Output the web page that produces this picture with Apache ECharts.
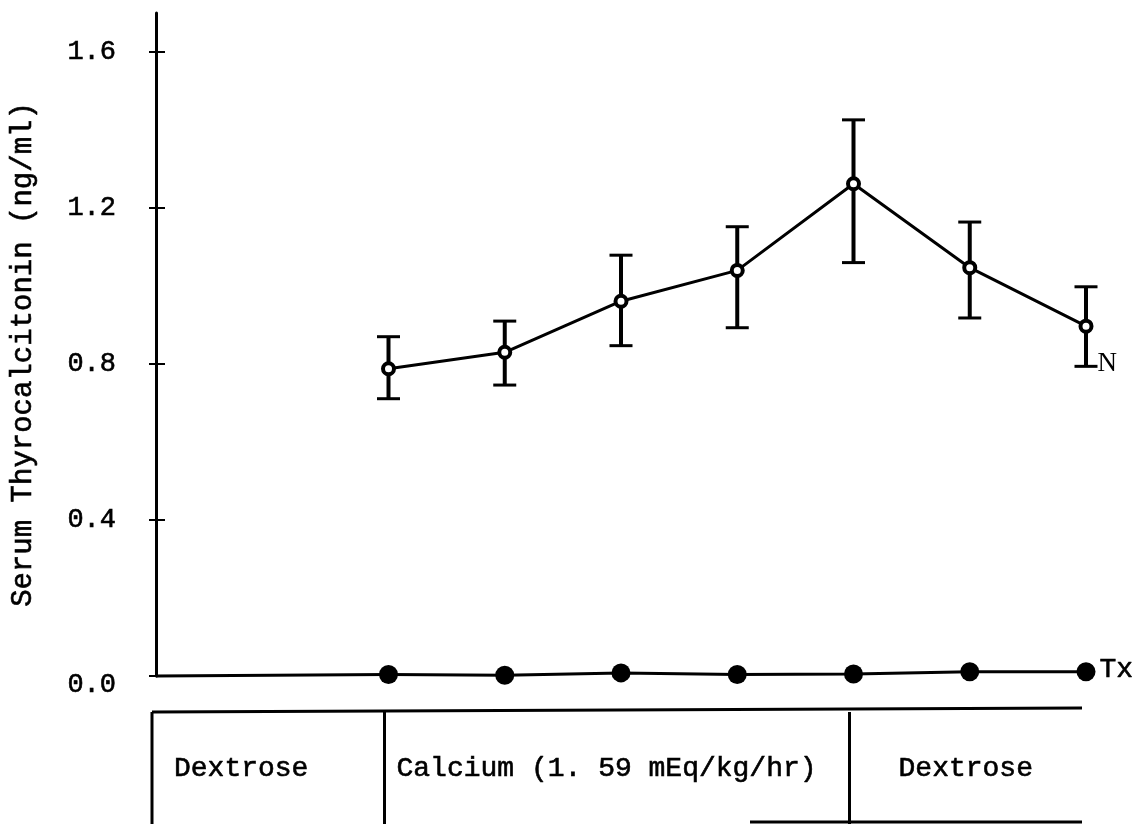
<!DOCTYPE html>
<html><head><meta charset="utf-8">
<script src="https://cdn.jsdelivr.net/npm/echarts@6/dist/echarts.min.js"></script>
<style>html,body{margin:0;padding:0;background:#fff}#c{width:1139px;height:824px}</style>
</head><body><div id="c"></div>
<script>
// ---- data ----
const times = [2, 3, 4, 5, 6, 7, 8];
const nMean  = [0.788, 0.830, 0.961, 1.040, 1.262, 1.047, 0.897];
const nUpper = [0.870, 0.910, 1.079, 1.152, 1.426, 1.164, 0.998];
const nLower = [0.711, 0.746, 0.847, 0.893, 1.060, 0.918, 0.794];
const txMean = [0.004, 0.002, 0.008, 0.004, 0.005, 0.011, 0.011];
const yTicks = [0, 0.4, 0.8, 1.2, 1.6];
const yTickLabels = ['0.0', '0.4', '0.8', '1.2', '1.6'];
const phaseNames = ['Dextrose', 'Calcium (1. 59 mEq/kg/hr)', 'Dextrose'];
const phaseStart = [0, 2, 6];
const phaseEnd = [2, 6, 8];
const yTitle = 'Serum Thyrocalcitonin (ng/ml)';
const seriesNames = ['N', 'Tx'];
const xMin = 0, xMax = 8, yMin = 0, yMax = 1.7;

const FONT = 'Liberation Mono';
const THICK = {textBorderColor: '#000', textBorderWidth: 0.6};
const chart = echarts.init(document.getElementById('c'), null, {renderer: 'canvas'});

const option = {
  backgroundColor: '#fff',
  animation: false,
  grid: {left: 156, right: 53, top: 13, bottom: 148, containLabel: false},
  xAxis: {
    type: 'value', min: xMin, max: xMax,
    axisLine: {show: false}, axisTick: {show: false}, axisLabel: {show: false}, splitLine: {show: false}
  },
  yAxis: [{
    type: 'value', min: yMin, max: yMax, position: 'left',
    name: yTitle, nameLocation: 'middle', nameGap: 118, nameRotate: 90,
    nameTextStyle: Object.assign({fontFamily: FONT, fontSize: 29, color: '#000', padding: [0, 20, 0, 0]}, THICK),
    axisLine: {show: true, lineStyle: {color: '#000', width: 3}},
    axisTick: {show: true, inside: false, length: 7, lineStyle: {color: '#000', width: 2}, customValues: yTicks},
    axisLabel: Object.assign({
      show: true, margin: 40, fontFamily: FONT, fontSize: 27, color: '#000',
      customValues: yTicks,
      formatter: v => {
        const i = yTicks.findIndex(t => Math.abs(t - v) < 1e-6);
        if (i < 0) return '';
        return i === 0 ? '{low|' + yTickLabels[i] + '}' : yTickLabels[i];
      },
      rich: {low: Object.assign({fontFamily: FONT, fontSize: 27, color: '#000', padding: [18, 0, 0, 0]}, THICK)}
    }, THICK),
    splitLine: {show: false}
  }, {
    type: 'value', min: yMin, max: yMax, position: 'left',
    axisLine: {show: false},
    axisTick: {show: true, inside: true, length: 9, lineStyle: {color: '#000', width: 2}, customValues: yTicks},
    axisLabel: {show: false}, splitLine: {show: false}
  }],
  series: [
    {
      type: 'custom', name: 'N error', z: 2,
      data: times.map((t, i) => [t, nLower[i], nUpper[i]]),
      renderItem: (params, api) => {
        const lo = api.coord([api.value(0), api.value(1)]);
        const hi = api.coord([api.value(0), api.value(2)]);
        const hw = 11.5;
        return {type: 'group', children: [
          {type: 'line', shape: {x1: lo[0], y1: lo[1], x2: hi[0], y2: hi[1]}, style: {stroke: '#000', lineWidth: 4}},
          {type: 'line', shape: {x1: hi[0] - hw, y1: hi[1], x2: hi[0] + hw, y2: hi[1]}, style: {stroke: '#000', lineWidth: 3}},
          {type: 'line', shape: {x1: lo[0] - hw, y1: lo[1], x2: lo[0] + hw, y2: lo[1]}, style: {stroke: '#000', lineWidth: 3}}
        ]};
      }
    },
    {
      type: 'line', name: seriesNames[0], z: 3,
      data: times.map((t, i) => {
        const d = {value: [t, nMean[i]]};
        if (i === times.length - 1) d.label = {show: true, formatter: seriesNames[0], position: 'right', distance: 4, offset: [0, 38], fontFamily: 'Liberation Serif', fontSize: 27, color: '#000'};
        return d;
      }),
      symbol: 'circle', symbolSize: 11,
      itemStyle: {color: '#fff', borderColor: '#000', borderWidth: 4},
      lineStyle: {color: '#000', width: 3}
    },
    {
      type: 'line', name: seriesNames[1], z: 3,
      data: times.map((t, i) => {
        const d = {value: [t, txMean[i]]};
        if (i === times.length - 1) d.label = Object.assign({show: true, formatter: seriesNames[1], position: 'right', distance: 4, offset: [0, -2], fontFamily: FONT, fontSize: 28, color: '#000'}, THICK);
        return d;
      }),
      symbol: 'circle', symbolSize: 19,
      itemStyle: {color: '#000'},
      lineStyle: {color: '#000', width: 3},
      markLine: {
        silent: true, symbol: 'none', label: {show: false},
        lineStyle: {color: '#000', width: 3, type: 'solid'},
        data: [[{coord: [xMin, 0]}, {coord: [times[0], txMean[0]]}]]
      }
    }
  ]
};
chart.setOption(option);

// ---- treatment table beneath the axis, positioned through the x scale ----
const px = v => chart.convertToPixel({xAxisIndex: 0}, v) - 4;
const topY = 712, botY = 824, textY = 769;
const g = [];
const ln = (x1, y1, x2, y2) => ({type: 'line', shape: {x1, y1, x2, y2}, style: {stroke: '#000', lineWidth: 3}, silent: true});
g.push(ln(px(xMin), topY, px(xMax), topY - 4));
phaseStart.forEach(s => g.push(ln(px(s), topY, px(s), botY)));
g.push(ln(750, 822, px(xMax), 822));
const textLeftPad = [22, 12, null];
phaseNames.forEach((name, i) => {
  const l = px(phaseStart[i]), r = px(phaseEnd[i]);
  const centered = textLeftPad[i] === null;
  g.push({
    type: 'text', silent: true,
    x: centered ? (l + r) / 2 : l + textLeftPad[i], y: textY,
    style: {text: name, fontFamily: FONT, fontSize: 28, fill: '#000', stroke: '#000', lineWidth: 0.6,
            textAlign: centered ? 'center' : 'left', textVerticalAlign: 'middle'}
  });
});
chart.setOption({graphic: g});
</script>
</body></html>
